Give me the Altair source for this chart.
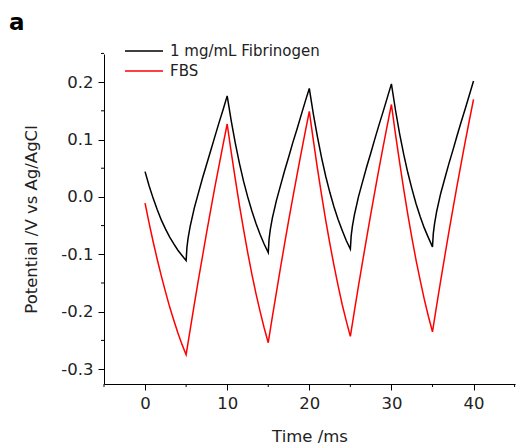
import altair as alt
import pandas as pd

series_names = ["1 mg/mL Fibrinogen", "FBS"]
series_colors = ["#000000", "#ff0000"]

t_black = [0, 0.5, 1, 1.5, 2, 2.5, 3, 3.5, 4, 4.5, 5,
           5.1, 5.25, 5.5, 6, 6.5, 7, 7.5, 8, 8.5, 9, 9.5, 10,
           10.5, 11, 11.5, 12, 12.5, 13, 13.5, 14, 14.5, 15,
           15.1, 15.25, 15.5, 16, 16.5, 17, 17.5, 18, 18.5, 19, 19.5, 20,
           20.5, 21, 21.5, 22, 22.5, 23, 23.5, 24, 24.5, 25,
           25.1, 25.25, 25.5, 26, 26.5, 27, 27.5, 28, 28.5, 29, 29.5, 30,
           30.5, 31, 31.5, 32, 32.5, 33, 33.5, 34, 34.5, 35,
           35.1, 35.25, 35.5, 36, 36.5, 37, 37.5, 38, 38.5, 39, 39.5, 40]
v_black = [0.044, 0.019, -0.003, -0.023, -0.041, -0.056, -0.070, -0.082, -0.093, -0.102, -0.111,
           -0.088, -0.071, -0.051, -0.019, 0.007, 0.033, 0.057, 0.081, 0.105, 0.129, 0.152, 0.176,
           0.132, 0.093, 0.058, 0.027, 0.000, -0.024, -0.046, -0.065, -0.082, -0.097,
           -0.074, -0.057, -0.037, -0.006, 0.020, 0.046, 0.070, 0.095, 0.118, 0.142, 0.166, 0.189,
           0.144, 0.104, 0.068, 0.036, 0.008, -0.017, -0.039, -0.058, -0.076, -0.091,
           -0.068, -0.051, -0.031, 0.001, 0.027, 0.053, 0.077, 0.102, 0.126, 0.149, 0.173, 0.197,
           0.151, 0.110, 0.074, 0.042, 0.014, -0.012, -0.034, -0.054, -0.071, -0.087,
           -0.064, -0.047, -0.026, 0.006, 0.032, 0.058, 0.082, 0.107, 0.131, 0.154, 0.178, 0.202]

t_red = [0, 0.5, 1, 1.5, 2, 2.5, 3, 3.5, 4, 4.5, 5,
         5.5, 6, 6.5, 7, 7.5, 8, 8.5, 9, 9.5, 10,
         10.5, 11, 11.5, 12, 12.5, 13, 13.5, 14, 14.5, 15,
         15.5, 16, 16.5, 17, 17.5, 18, 18.5, 19, 19.5, 20,
         20.5, 21, 21.5, 22, 22.5, 23, 23.5, 24, 24.5, 25,
         25.5, 26, 26.5, 27, 27.5, 28, 28.5, 29, 29.5, 30,
         30.5, 31, 31.5, 32, 32.5, 33, 33.5, 34, 34.5, 35,
         35.5, 36, 36.5, 37, 37.5, 38, 38.5, 39, 39.5, 40]
v_red = [-0.011, -0.046, -0.079, -0.110, -0.139, -0.166, -0.192, -0.215, -0.237, -0.257, -0.275,
         -0.231, -0.187, -0.144, -0.103, -0.062, -0.022, 0.017, 0.054, 0.091, 0.127,
         0.077, 0.030, -0.015, -0.057, -0.097, -0.134, -0.168, -0.199, -0.228, -0.254,
         -0.209, -0.166, -0.123, -0.081, -0.040, -0.001, 0.038, 0.076, 0.113, 0.149,
         0.098, 0.049, 0.003, -0.041, -0.081, -0.119, -0.154, -0.187, -0.216, -0.243,
         -0.198, -0.154, -0.112, -0.070, -0.029, 0.011, 0.050, 0.088, 0.125, 0.161,
         0.109, 0.060, 0.013, -0.031, -0.072, -0.110, -0.145, -0.178, -0.208, -0.235,
         -0.190, -0.146, -0.103, -0.061, -0.020, 0.020, 0.059, 0.097, 0.134, 0.170]

x_major = [0, 10, 20, 30, 40]
x_minor = [-5, 5, 15, 25, 35, 45]
y_major = [0.2, 0.1, 0.0, -0.1, -0.2, -0.3]
y_minor = [0.25, 0.15, 0.05, -0.05, -0.15, -0.25]

W, H = 411, 330
FONT = "DejaVu Sans"

df = pd.concat([
    pd.DataFrame({"t": t_black, "v": v_black, "series": series_names[0]}),
    pd.DataFrame({"t": t_red, "v": v_red, "series": series_names[1]}),
])

xscale = alt.Scale(domain=[-5, 45.05], nice=False, zero=False)
yscale = alt.Scale(domain=[-0.326, 0.249], nice=False, zero=False)

common = dict(grid=False, tickSize=6, labelFontSize=16.5, titleFontSize=16.5, labelPadding=5,
              domainColor="#000", tickColor="#000", labelColor="#222", titleColor="#222",
              labelFont=FONT, titleFont=FONT, titleFontWeight="normal")

lines = alt.Chart(df).mark_line(strokeWidth=1.5, clip=False).encode(
    x=alt.X("t:Q", scale=xscale, title="Time /ms",
            axis=alt.Axis(values=x_major, format="d", titlePadding=17, **common)),
    y=alt.Y("v:Q", scale=yscale, title="Potential /V vs Ag/AgCl",
            axis=alt.Axis(values=y_major,
                          labelExpr="replace(format(datum.value, '.1f'), '\u2212', '-')",
                          titlePadding=21, **common)),
    color=alt.Color("series:N", scale=alt.Scale(domain=series_names, range=series_colors),
                    legend=None),
    detail="series:N",
)

xminor = alt.Chart(pd.DataFrame({"t": x_minor})).mark_rule(color="#000", strokeWidth=1).encode(
    x=alt.X("t:Q", scale=xscale), y=alt.value(H), y2=alt.value(H + 3))
yminor = alt.Chart(pd.DataFrame({"v": y_minor})).mark_rule(color="#000", strokeWidth=1).encode(
    y=alt.Y("v:Q", scale=yscale), x=alt.value(0), x2=alt.value(-3))

legend_layers = []
for i, (name, col) in enumerate(zip(series_names, series_colors)):
    ly = -3 + 20 * i
    ldf = pd.DataFrame({"series": [name]})
    legend_layers.append(alt.Chart(ldf).mark_rule(color=col, strokeWidth=1.5).encode(
        x=alt.value(21), x2=alt.value(59), y=alt.value(ly)))
    legend_layers.append(alt.Chart(ldf).mark_text(
        align="left", baseline="middle", fontSize=15, font=FONT, color="#222").encode(
        text="series:N", x=alt.value(66), y=alt.value(ly)))

panel = alt.Chart(pd.DataFrame({"lab": ["a"]})).mark_text(
    align="left", baseline="alphabetic", fontSize=23, fontWeight="bold", font=FONT, color="#000"
).encode(text="lab:N", x=alt.value(-95), y=alt.value(-24))

chart = alt.layer(lines, xminor, yminor, *legend_layers, panel).properties(
    width=W, height=H,
    autosize=alt.AutoSizeParams(type="none"),
    padding={"left": 104, "top": 54, "right": 1, "bottom": 64},
).configure_view(stroke=None).configure_axis(domainWidth=1, tickWidth=1)

chart.save("out.html", embed_options={"renderer": "svg", "actions": False})
